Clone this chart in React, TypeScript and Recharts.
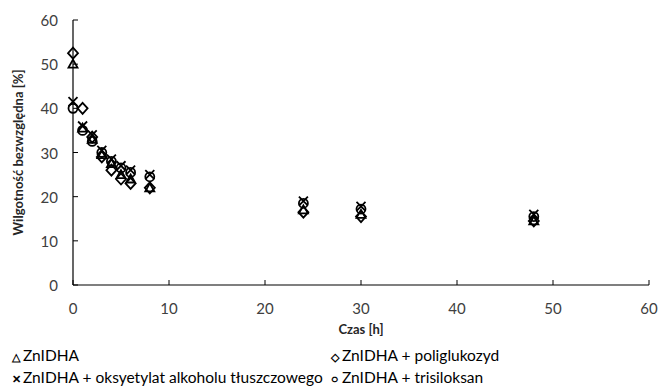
import { ScatterChart, Scatter, XAxis, YAxis, Label } from "recharts";

const hours = [0, 1, 2, 3, 4, 5, 6, 8, 24, 30, 48];
const znidha = [50, 35.5, 33, 29.5, 27.5, 25, 24, 22, 17, 16, 14.5];
const poliglukozyd = [52.5, 40, 33.5, 29, 26, 24, 23, 22, 16.5, 15.5, 14.5];
const oksyetylat = [41.5, 36, 34, 30.5, 28.5, 27, 26, 25, 19, 17.8, 16];
const trisiloksan = [40, 35, 32.5, 30, 28, 26.5, 25.5, 24.5, 18.5, 17.2, 15.5];

const xTicks = [0, 10, 20, 30, 40, 50, 60];
const yTicks = [0, 10, 20, 30, 40, 50, 60];

const toPoints = (vals: number[]) => hours.map((h, i) => ({ x: h, y: vals[i] }));

const FONT = "Lato, 'Open Sans', sans-serif";
const INK = "#000";

const Triangle = ({ cx, cy }: any) => (
  <path d={`M${cx},${cy - 4.5} L${cx + 4.5},${cy + 3.5} L${cx - 4.5},${cy + 3.5} Z`} fill="none" stroke={INK} strokeWidth={1.8} />
);
const Diamond = ({ cx, cy }: any) => (
  <path d={`M${cx},${cy - 5.5} L${cx + 5},${cy} L${cx},${cy + 5.5} L${cx - 5},${cy} Z`} fill="none" stroke={INK} strokeWidth={1.8} />
);
const Cross = ({ cx, cy }: any) => (
  <path d={`M${cx - 4.5},${cy - 4.5} L${cx + 4.5},${cy + 4.5} M${cx + 4.5},${cy - 4.5} L${cx - 4.5},${cy + 4.5}`} stroke={INK} strokeWidth={1.8} />
);
const Circle = ({ cx, cy }: any) => <circle cx={cx} cy={cy} r={4.5} fill="none" stroke={INK} strokeWidth={1.8} />;

const XTick = ({ x, y, payload }: any) => (
  <g>
    <line x1={x} x2={x} y1={y} y2={y - 5} stroke={INK} strokeWidth={1} />
    <text x={x} y={y + 23} textAnchor="middle" dominantBaseline="central" fontSize={15} fill="#404040" fontFamily={FONT}>
      {payload.value}
    </text>
  </g>
);
const YTick = ({ x, y, payload }: any) => (
  <g>
    <line x1={x} x2={x + 5} y1={y} y2={y} stroke={INK} strokeWidth={1} />
    <text x={x - 15} y={y} textAnchor="end" dominantBaseline="central" fontSize={15} fill="#404040" fontFamily={FONT}>
      {payload.value}
    </text>
  </g>
);

const legendItems = [
  { sym: "\u25B3", label: "ZnIDHA", left: 12, top: 345 },
  { sym: "\u25C7", label: "ZnIDHA + poliglukozyd", left: 331, top: 345 },
  { sym: "\u2715", label: "ZnIDHA + oksyetylat alkoholu tłuszczowego", left: 12, top: 367 },
  { sym: "\u25CB", label: "ZnIDHA + trisiloksan", left: 331, top: 367 },
];

export default function App() {
  return (
    <div style={{ position: "absolute", left: 0, top: 0, width: 659, height: 387, background: "#fff", fontFamily: FONT }}>
      <ScatterChart width={659} height={387} margin={{ top: 20, right: 10, bottom: 72, left: 0 }}>
        <XAxis
          type="number"
          dataKey="x"
          domain={[0, 60]}
          ticks={xTicks}
          height={30}
          tickSize={0}
          tickMargin={0}
          tick={<XTick />}
          axisLine={{ stroke: INK, strokeWidth: 1.2 }}
        >
          <Label
            content={({ viewBox }: any) => (
              <text x={viewBox.x + viewBox.width / 2} y={329} textAnchor="middle" dominantBaseline="central" fontSize={13} fontWeight="bold" fill="#262626" fontFamily={FONT}>
                Czas [h]
              </text>
            )}
          />
        </XAxis>
        <YAxis
          type="number"
          dataKey="y"
          domain={[0, 60]}
          ticks={yTicks}
          width={73}
          tickSize={0}
          tickMargin={0}
          tick={<YTick />}
          axisLine={{ stroke: INK, strokeWidth: 1.2 }}
        >
          <Label
            content={({ viewBox }: any) => (
              <text x={18} y={viewBox.y + viewBox.height / 2} transform={`rotate(-90 18 ${viewBox.y + viewBox.height / 2})`} textAnchor="middle" dominantBaseline="central" fontSize={13} fontWeight="bold" fill="#262626" fontFamily={FONT}>
                Wilgotność bezwzględna [%]
              </text>
            )}
          />
        </YAxis>
        <Scatter data={toPoints(znidha)} shape={<Triangle />} isAnimationActive={false} />
        <Scatter data={toPoints(poliglukozyd)} shape={<Diamond />} isAnimationActive={false} />
        <Scatter data={toPoints(oksyetylat)} shape={<Cross />} isAnimationActive={false} />
        <Scatter data={toPoints(trisiloksan)} shape={<Circle />} isAnimationActive={false} />
      </ScatterChart>
      {legendItems.map((it) => (
        <div key={it.label} style={{ position: "absolute", left: it.left, top: it.top, fontSize: 15.5, color: "#000", whiteSpace: "nowrap", lineHeight: "20px" }}>
          <span style={{ display: "inline-block", width: 11, fontSize: 11, fontWeight: "bold" }}>{it.sym}</span>
          {it.label}
        </div>
      ))}
    </div>
  );
}
